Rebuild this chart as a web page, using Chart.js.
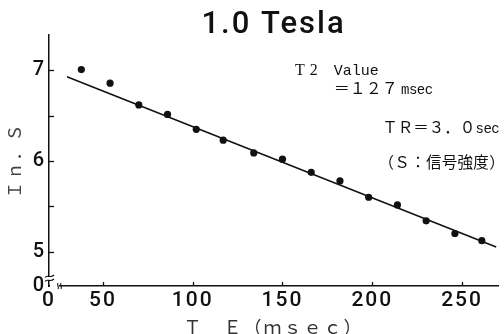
<!DOCTYPE html>
<html><head><meta charset="utf-8">
<script src="https://cdn.jsdelivr.net/npm/chart.js@4"></script>
<style>html,body{margin:0;padding:0;background:#fff}#wrap{width:504px;height:334px}</style>
</head><body><div id="wrap"><canvas id="c" width="504" height="334"></canvas></div>
<script>
// ---- data ----
const teValues  = [38, 54, 70, 86, 102, 117, 134, 150, 166, 182, 198, 214, 230, 246, 261];
const lnSValues = [7.01, 6.86, 6.62, 6.515, 6.35, 6.23, 6.09, 6.02, 5.875, 5.78, 5.60, 5.515, 5.34, 5.20, 5.12];
const fitTE  = [30, 269];
const fitLnS = [6.93, 5.05];
const xTickValues = [20, 50, 100, 150, 200, 250];   // 20 = broken-axis origin, labelled "0"
const yTickValues = [4.62, 5, 5.5, 6, 6.5, 7];      // 4.62 = broken-axis origin, labelled "0"
const xRange = [20, 270];
const yRange = [4.62, 7.39];

const titleText = '1.0 Tesla';
const xTitle = 'Ｔ　Ｅ（ｍｓｅｃ）';
const yTitle = 'Ｉｎ．Ｓ';

// annotation anchors in data units (alphabetic baseline)
const notes = [
  {text: 'T2',  te: 157, ln: 6.955, font: '16px "Liberation Serif"', ls: '5px'},
  {text: 'Value', te: 178.5, ln: 6.955, font: '15px "Liberation Mono"', ls: '0px'},
  {text: '＝１２７', te: 178.5, ln: 6.735, font: '16px "Noto Sans CJK JP"', ls: '0px'},
  {text: 'msec', te: 216, ln: 6.735, font: '14px "Liberation Mono"', ls: '-0.5px'},
  {text: 'ＴＲ＝３．０', te: 205.5, ln: 6.305, font: '15.5px "Noto Sans CJK JP"', ls: '0px'},
  {text: 'sec', te: 257.5, ln: 6.305, font: '14px "Liberation Mono"', ls: '-0.5px'},
  {text: '（Ｓ：信号強度）', te: 203.5, ln: 5.925, font: '15.5px "Noto Sans CJK JP"', ls: '0.3px'}
];

const decor = {
  id: 'decor',
  beforeDraw(chart) {
    chart.ctx.letterSpacing = '2px';
  },
  afterDraw(chart) {
    const {ctx, chartArea: a, scales: {x, y}} = chart;
    ctx.save();
    ctx.strokeStyle = '#111';
    ctx.lineWidth = 1.3;
    // inward tick marks
    y.ticks.forEach(t => {
      if (t.value === y.min) return;
      const py = Math.round(y.getPixelForValue(t.value)) + 0.5;
      ctx.beginPath(); ctx.moveTo(a.left, py); ctx.lineTo(a.left + 5, py); ctx.stroke();
    });
    x.ticks.forEach(t => {
      if (t.value === x.min) return;
      const px = Math.round(x.getPixelForValue(t.value)) + 0.5;
      ctx.beginPath(); ctx.moveTo(px, a.bottom); ctx.lineTo(px, a.bottom - 4); ctx.stroke();
    });
    // axis break marks
    ctx.fillStyle = '#fff';
    ctx.fillRect(a.left - 2, a.bottom - 9, 4, 3);
    ctx.fillRect(a.left + 1, a.bottom - 2, 9, 4);
    ctx.lineWidth = 1.1;
    [a.bottom - 10, a.bottom - 6].forEach(yy => {
      ctx.beginPath();
      ctx.moveTo(a.left - 4, yy + 1.5);
      ctx.bezierCurveTo(a.left - 1, yy - 2, a.left + 1, yy + 3, a.left + 5, yy - 1);
      ctx.stroke();
    });
    [a.left + 9, a.left + 12].forEach(xx => {
      ctx.beginPath();
      ctx.moveTo(xx, a.bottom - 3);
      ctx.bezierCurveTo(xx - 1.5, a.bottom - 1, xx + 1.5, a.bottom + 1, xx, a.bottom + 3);
      ctx.stroke();
    });
    // annotations
    ctx.fillStyle = '#111';
    ctx.textBaseline = 'alphabetic';
    ctx.textAlign = 'left';
    notes.forEach(n => {
      ctx.font = n.font;
      ctx.letterSpacing = n.ls;
      ctx.fillText(n.text, x.getPixelForValue(n.te), y.getPixelForValue(n.ln));
    });
    ctx.restore();
  }
};

new Chart(document.getElementById('c'), {
  data: {
    datasets: [
      {
        type: 'scatter',
        data: teValues.map((v, i) => ({x: v, y: lnSValues[i]})),
        backgroundColor: '#111', borderColor: '#111',
        pointRadius: 3.6, pointHoverRadius: 3.6, borderWidth: 0
      },
      {
        type: 'line',
        data: fitTE.map((v, i) => ({x: v, y: fitLnS[i]})),
        borderColor: '#111', borderWidth: 1.5, pointRadius: 0, fill: false
      }
    ]
  },
  options: {
    responsive: false,
    animation: false,
    devicePixelRatio: 1,
    layout: {padding: {left: 0, right: 6, top: 0, bottom: 0}},
    plugins: {
      legend: {display: false},
      tooltip: {enabled: false},
      title: {
        display: true, text: titleText, color: '#111', fullSize: false,
        font: {family: 'Roboto', size: 31, weight: '500', lineHeight: 0.65},
        padding: {top: 15, bottom: 0}
      }
    },
    scales: {
      x: {
        type: 'linear', min: xRange[0], max: xRange[1],
        afterFit: s => { s.height = 48; },
        afterBuildTicks: s => { s.ticks = xTickValues.map(v => ({value: v})); },
        grid: {display: false, drawTicks: false},
        border: {display: true, color: '#111', width: 1.5},
        ticks: {
          color: '#111', padding: 2,
          font: {family: 'Roboto', size: 21, weight: '500'},
          callback: v => v === xRange[0] ? '0' : String(v)
        },
        title: {
          display: true, text: xTitle, color: '#333',
          font: {family: 'Noto Sans CJK JP', size: 18, lineHeight: 0.8},
          padding: {top: 0, bottom: 0}
        }
      },
      y: {
        type: 'linear', min: yRange[0], max: yRange[1],
        afterFit: s => { s.width = 49; },
        afterBuildTicks: s => { s.ticks = yTickValues.map(v => ({value: v})); },
        grid: {display: false, drawTicks: false},
        border: {display: true, color: '#111', width: 1.5},
        ticks: {
          color: '#111', padding: 3,
          font: {family: 'Roboto', size: 20, weight: '500'},
          callback: v => v === yRange[0] ? '0' : (Number.isInteger(v) ? String(v) : '')
        },
        title: {
          display: true, text: yTitle, color: '#444',
          font: {family: 'Noto Sans CJK JP', size: 17, lineHeight: 1},
          padding: {top: 6, bottom: 0}
        }
      }
    }
  },
  plugins: [decor]
});
</script>
</body></html>
